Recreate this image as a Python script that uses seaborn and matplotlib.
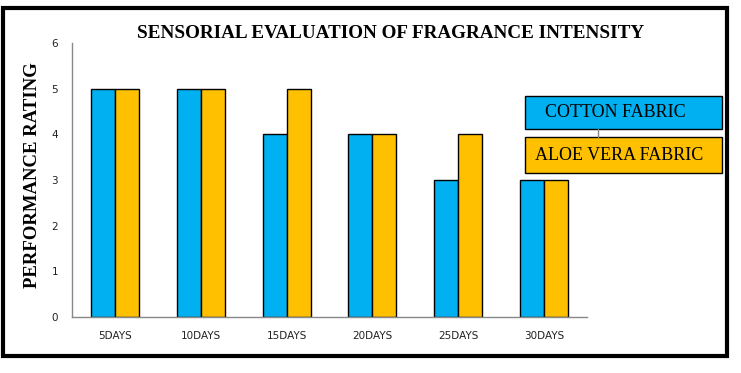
import matplotlib
matplotlib.use("Agg")
import matplotlib.pyplot as plt
from matplotlib.patches import Rectangle
from matplotlib.lines import Line2D
import seaborn as sns
import pandas as pd
import numpy as np

# Data
days = ["5DAYS", "10DAYS", "15DAYS", "20DAYS", "25DAYS", "30DAYS"]
cotton = [5, 5, 4, 4, 3, 3]
aloe_vera = [5, 5, 5, 4, 4, 3]
series = ["COTTON FABRIC", "ALOE VERA FABRIC"]
colors = ["#00B0F0", "#FFC000"]

df = pd.DataFrame({
    "day": days * 2,
    "rating": cotton + aloe_vera,
    "fabric": [series[0]] * len(days) + [series[1]] * len(days),
})

sns.set_style("white")
W, H = 741, 373
fig = plt.figure(figsize=(W / 100, H / 100), dpi=100)
ax = fig.add_axes([72 / W, 1 - 317 / H, (587 - 72) / W, (317 - 43) / H])

sns.barplot(data=df, x="day", y="rating", hue="fabric", palette=colors,
            saturation=1, edgecolor="black", linewidth=1, width=0.56,
            ax=ax, legend=False)

ax.set_ylim(0, 6)
ax.set_xlim(-0.5, 5.5)
ax.set_yticks(range(0, 7))
ax.set_xlabel("")
ax.set_ylabel("")
for s in ["top", "right"]:
    ax.spines[s].set_visible(False)
for s in ["left", "bottom"]:
    ax.spines[s].set_color("#888888")
    ax.spines[s].set_linewidth(1)
ax.set_xticks(np.arange(-0.5, 6, 1), minor=True)
ax.tick_params(axis="x", which="major", length=0, pad=10, labelsize=7.5, labelcolor="#222222")
ax.tick_params(axis="x", which="minor", length=4, color="#888888", direction="out")
ax.tick_params(axis="y", length=4, color="#888888", direction="out", labelsize=7.5,
               pad=6, labelcolor="#222222")
for lbl in ax.get_xticklabels() + ax.get_yticklabels():
    lbl.set_family("DejaVu Sans")

serif = ["Liberation Serif", "DejaVu Serif"]
fig.text(391 / W, 1 - 33 / H, "SENSORIAL EVALUATION OF FRAGRANCE INTENSITY",
         ha="center", va="center", fontsize=13.8, fontweight="bold", family=serif,
         color="black")
fig.text(33 / W, 1 - 175 / H, "PERFORMANCE RATING", rotation=90,
         ha="center", va="center", fontsize=13.5, fontweight="bold", family=serif,
         color="black")

# legend boxes (drawn like the original's text boxes)
fig.add_artist(Line2D([598 / W, 598 / W], [1 - 129 / H, 1 - 137 / H],
                      transform=fig.transFigure, color="#888888", lw=1))
boxes = [(96, 129, 545), (137, 173, 535)]
for (top, bot, tx), name, c in zip(boxes, series, colors):
    fig.add_artist(Rectangle((525 / W, 1 - bot / H), (722 - 525) / W, (bot - top) / H,
                             transform=fig.transFigure, facecolor=c,
                             edgecolor="black", lw=1))
    fig.text(tx / W, 1 - (top + bot) / 2 / H, name, ha="left", va="center",
             fontsize=13, family=serif, color="black")

# outer border
fig.add_artist(Rectangle((3 / W, 1 - 356 / H), (727 - 3) / W, (356 - 8) / H,
                         transform=fig.transFigure, fill=False,
                         edgecolor="black", lw=3))

fig.savefig("out.png", dpi=100)
